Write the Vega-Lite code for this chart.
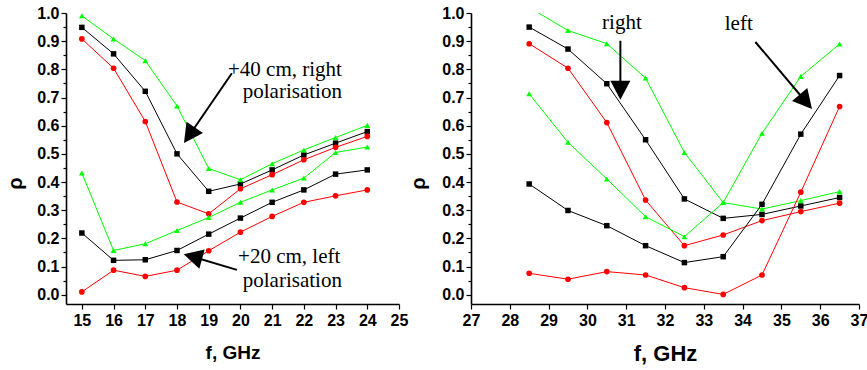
{
  "$schema": "https://vega.github.io/schema/vega-lite/v6.json",
  "background": "white",
  "padding": {"left": 5, "top": 5, "right": 5, "bottom": 5},
  "bounds": "flush",
  "spacing": 72,
  "config": {
    "view": {"stroke": null},
    "font": "Liberation Sans",
    "axis": {
      "grid": false,
      "domainColor": "#000000",
      "domainWidth": 1.6,
      "tickColor": "#000000",
      "tickWidth": 1.2,
      "labelColor": "#000000",
      "labelFont": "Liberation Sans",
      "labelFontSize": 16,
      "labelFontWeight": "bold",
      "labelFlush": false,
      "labelOverlap": false,
      "labelBound": false,
      "titleFont": "Liberation Sans",
      "titleFontWeight": "bold",
      "titleColor": "#000000"
    },
    "axisX": {"labelPadding": 3, "titlePadding": 15},
    "axisY": {"labelPadding": 2, "titleFontSize": 20}
  },
  "datasets": {
    "left": [
      {"f": 15, "rho": 0.949, "series": "+40 k", "run": "run 1"},
      {"f": 16, "rho": 0.855, "series": "+40 k", "run": "run 1"},
      {"f": 17, "rho": 0.722, "series": "+40 k", "run": "run 1"},
      {"f": 18, "rho": 0.500, "series": "+40 k", "run": "run 1"},
      {"f": 19, "rho": 0.367, "series": "+40 k", "run": "run 1"},
      {"f": 20, "rho": 0.393, "series": "+40 k", "run": "run 1"},
      {"f": 21, "rho": 0.443, "series": "+40 k", "run": "run 1"},
      {"f": 22, "rho": 0.496, "series": "+40 k", "run": "run 1"},
      {"f": 23, "rho": 0.538, "series": "+40 k", "run": "run 1"},
      {"f": 24, "rho": 0.579, "series": "+40 k", "run": "run 1"},
      {"f": 15, "rho": 0.908, "series": "+40 r", "run": "run 2"},
      {"f": 16, "rho": 0.804, "series": "+40 r", "run": "run 2"},
      {"f": 17, "rho": 0.615, "series": "+40 r", "run": "run 2"},
      {"f": 18, "rho": 0.329, "series": "+40 r", "run": "run 2"},
      {"f": 19, "rho": 0.287, "series": "+40 r", "run": "run 2"},
      {"f": 20, "rho": 0.376, "series": "+40 r", "run": "run 2"},
      {"f": 21, "rho": 0.426, "series": "+40 r", "run": "run 2"},
      {"f": 22, "rho": 0.479, "series": "+40 r", "run": "run 2"},
      {"f": 23, "rho": 0.523, "series": "+40 r", "run": "run 2"},
      {"f": 24, "rho": 0.562, "series": "+40 r", "run": "run 2"},
      {"f": 15, "rho": 0.990, "series": "+40 g", "run": "run 3"},
      {"f": 16, "rho": 0.908, "series": "+40 g", "run": "run 3"},
      {"f": 17, "rho": 0.831, "series": "+40 g", "run": "run 3"},
      {"f": 18, "rho": 0.670, "series": "+40 g", "run": "run 3"},
      {"f": 19, "rho": 0.448, "series": "+40 g", "run": "run 3"},
      {"f": 20, "rho": 0.408, "series": "+40 g", "run": "run 3"},
      {"f": 21, "rho": 0.465, "series": "+40 g", "run": "run 3"},
      {"f": 22, "rho": 0.514, "series": "+40 g", "run": "run 3"},
      {"f": 23, "rho": 0.558, "series": "+40 g", "run": "run 3"},
      {"f": 24, "rho": 0.601, "series": "+40 g", "run": "run 3"},
      {"f": 15, "rho": 0.219, "series": "+20 k", "run": "run 1"},
      {"f": 16, "rho": 0.122, "series": "+20 k", "run": "run 1"},
      {"f": 17, "rho": 0.124, "series": "+20 k", "run": "run 1"},
      {"f": 18, "rho": 0.157, "series": "+20 k", "run": "run 1"},
      {"f": 19, "rho": 0.215, "series": "+20 k", "run": "run 1"},
      {"f": 20, "rho": 0.272, "series": "+20 k", "run": "run 1"},
      {"f": 21, "rho": 0.328, "series": "+20 k", "run": "run 1"},
      {"f": 22, "rho": 0.372, "series": "+20 k", "run": "run 1"},
      {"f": 23, "rho": 0.428, "series": "+20 k", "run": "run 1"},
      {"f": 24, "rho": 0.443, "series": "+20 k", "run": "run 1"},
      {"f": 15, "rho": 0.010, "series": "+20 r", "run": "run 2"},
      {"f": 16, "rho": 0.087, "series": "+20 r", "run": "run 2"},
      {"f": 17, "rho": 0.065, "series": "+20 r", "run": "run 2"},
      {"f": 18, "rho": 0.087, "series": "+20 r", "run": "run 2"},
      {"f": 19, "rho": 0.156, "series": "+20 r", "run": "run 2"},
      {"f": 20, "rho": 0.222, "series": "+20 r", "run": "run 2"},
      {"f": 21, "rho": 0.278, "series": "+20 r", "run": "run 2"},
      {"f": 22, "rho": 0.328, "series": "+20 r", "run": "run 2"},
      {"f": 23, "rho": 0.351, "series": "+20 r", "run": "run 2"},
      {"f": 24, "rho": 0.372, "series": "+20 r", "run": "run 2"},
      {"f": 15, "rho": 0.432, "series": "+20 g", "run": "run 3"},
      {"f": 16, "rho": 0.157, "series": "+20 g", "run": "run 3"},
      {"f": 17, "rho": 0.181, "series": "+20 g", "run": "run 3"},
      {"f": 18, "rho": 0.228, "series": "+20 g", "run": "run 3"},
      {"f": 19, "rho": 0.274, "series": "+20 g", "run": "run 3"},
      {"f": 20, "rho": 0.328, "series": "+20 g", "run": "run 3"},
      {"f": 21, "rho": 0.372, "series": "+20 g", "run": "run 3"},
      {"f": 22, "rho": 0.414, "series": "+20 g", "run": "run 3"},
      {"f": 23, "rho": 0.505, "series": "+20 g", "run": "run 3"},
      {"f": 24, "rho": 0.524, "series": "+20 g", "run": "run 3"}
    ],
    "right": [
      {"f": 28.5, "rho": 0.950, "series": "right k", "run": "run 1"},
      {"f": 29.5, "rho": 0.872, "series": "right k", "run": "run 1"},
      {"f": 30.5, "rho": 0.749, "series": "right k", "run": "run 1"},
      {"f": 31.5, "rho": 0.550, "series": "right k", "run": "run 1"},
      {"f": 32.5, "rho": 0.340, "series": "right k", "run": "run 1"},
      {"f": 33.5, "rho": 0.271, "series": "right k", "run": "run 1"},
      {"f": 34.5, "rho": 0.285, "series": "right k", "run": "run 1"},
      {"f": 35.5, "rho": 0.315, "series": "right k", "run": "run 1"},
      {"f": 36.5, "rho": 0.345, "series": "right k", "run": "run 1"},
      {"f": 28.5, "rho": 0.891, "series": "right r", "run": "run 2"},
      {"f": 29.5, "rho": 0.804, "series": "right r", "run": "run 2"},
      {"f": 30.5, "rho": 0.611, "series": "right r", "run": "run 2"},
      {"f": 31.5, "rho": 0.336, "series": "right r", "run": "run 2"},
      {"f": 32.5, "rho": 0.174, "series": "right r", "run": "run 2"},
      {"f": 33.5, "rho": 0.212, "series": "right r", "run": "run 2"},
      {"f": 34.5, "rho": 0.263, "series": "right r", "run": "run 2"},
      {"f": 35.5, "rho": 0.295, "series": "right r", "run": "run 2"},
      {"f": 36.5, "rho": 0.325, "series": "right r", "run": "run 2"},
      {"f": 28.5, "rho": 1.020, "series": "right g", "run": "run 3"},
      {"f": 29.5, "rho": 0.938, "series": "right g", "run": "run 3"},
      {"f": 30.5, "rho": 0.891, "series": "right g", "run": "run 3"},
      {"f": 31.5, "rho": 0.769, "series": "right g", "run": "run 3"},
      {"f": 32.5, "rho": 0.505, "series": "right g", "run": "run 3"},
      {"f": 33.5, "rho": 0.327, "series": "right g", "run": "run 3"},
      {"f": 34.5, "rho": 0.304, "series": "right g", "run": "run 3"},
      {"f": 35.5, "rho": 0.334, "series": "right g", "run": "run 3"},
      {"f": 36.5, "rho": 0.366, "series": "right g", "run": "run 3"},
      {"f": 28.5, "rho": 0.393, "series": "left k", "run": "run 1"},
      {"f": 29.5, "rho": 0.299, "series": "left k", "run": "run 1"},
      {"f": 30.5, "rho": 0.245, "series": "left k", "run": "run 1"},
      {"f": 31.5, "rho": 0.174, "series": "left k", "run": "run 1"},
      {"f": 32.5, "rho": 0.114, "series": "left k", "run": "run 1"},
      {"f": 33.5, "rho": 0.135, "series": "left k", "run": "run 1"},
      {"f": 34.5, "rho": 0.321, "series": "left k", "run": "run 1"},
      {"f": 35.5, "rho": 0.570, "series": "left k", "run": "run 1"},
      {"f": 36.5, "rho": 0.778, "series": "left k", "run": "run 1"},
      {"f": 28.5, "rho": 0.076, "series": "left r", "run": "run 2"},
      {"f": 29.5, "rho": 0.055, "series": "left r", "run": "run 2"},
      {"f": 30.5, "rho": 0.082, "series": "left r", "run": "run 2"},
      {"f": 31.5, "rho": 0.070, "series": "left r", "run": "run 2"},
      {"f": 32.5, "rho": 0.025, "series": "left r", "run": "run 2"},
      {"f": 33.5, "rho": 0.001, "series": "left r", "run": "run 2"},
      {"f": 34.5, "rho": 0.070, "series": "left r", "run": "run 2"},
      {"f": 35.5, "rho": 0.364, "series": "left r", "run": "run 2"},
      {"f": 36.5, "rho": 0.668, "series": "left r", "run": "run 2"},
      {"f": 28.5, "rho": 0.713, "series": "left g", "run": "run 3"},
      {"f": 29.5, "rho": 0.541, "series": "left g", "run": "run 3"},
      {"f": 30.5, "rho": 0.411, "series": "left g", "run": "run 3"},
      {"f": 31.5, "rho": 0.277, "series": "left g", "run": "run 3"},
      {"f": 32.5, "rho": 0.206, "series": "left g", "run": "run 3"},
      {"f": 33.5, "rho": 0.327, "series": "left g", "run": "run 3"},
      {"f": 34.5, "rho": 0.573, "series": "left g", "run": "run 3"},
      {"f": 35.5, "rho": 0.775, "series": "left g", "run": "run 3"},
      {"f": 36.5, "rho": 0.890, "series": "left g", "run": "run 3"}
    ],
    "leftArrows": [
      {"arrow": "a40", "f": 18.39, "rho": 0.566, "f2": 19.73, "rho2": 0.786},
      {"arrow": "a20", "f": 18.50, "rho": 0.135, "f2": 19.89, "rho2": 0.088}
    ],
    "rightArrows": [
      {"arrow": "right", "f": 30.85, "rho": 0.7256, "f2": 30.85, "rho2": 0.9015},
      {"arrow": "left", "f": 35.63, "rho": 0.685, "f2": 34.33, "rho2": 0.897}
    ]
  },
  "hconcat": [
    {
      "width": 333,
      "height": 291,
      "encoding": {
        "x": {
          "field": "f", "type": "quantitative",
          "scale": {"domain": [14.5, 25], "nice": false, "zero": false},
          "axis": {
            "title": "f, GHz",
            "titleFontSize": 19,
            "values": [15, 15.5, 16, 16.5, 17, 17.5, 18, 18.5, 19, 19.5, 20, 20.5, 21, 21.5, 22, 22.5, 23, 23.5, 24, 24.5, 25],
            "format": "d",
            "labelExpr": "datum.value % 1 === 0 ? datum.label : ''",
            "tickSize": {"condition": {"test": "datum.value % 1 !== 0", "value": 3}, "value": 5}
          }
        },
        "y": {
          "field": "rho", "type": "quantitative",
          "scale": {"domain": [-0.033, 1.0], "nice": false, "zero": false},
          "axis": {
            "title": "ρ",
            "titleX": -45,
            "titleY": 170,
            "titleBaseline": "alphabetic",
            "values": [0, 0.05, 0.1, 0.15, 0.2, 0.25, 0.3, 0.35, 0.4, 0.45, 0.5, 0.55, 0.6, 0.65, 0.7, 0.75, 0.8, 0.85, 0.9, 0.95, 1],
            "format": ".1f",
            "labelExpr": "abs(datum.value * 10 - round(datum.value * 10)) > 0.01 ? '' : datum.label",
            "tickSize": {"condition": {"test": "abs(datum.value * 10 - round(datum.value * 10)) > 0.01", "value": 3}, "value": 5}
          }
        }
      },
      "layer": [
        {
          "data": {"name": "left"},
          "mark": {"type": "line", "strokeWidth": 1},
          "encoding": {
            "color": {"field": "run", "type": "nominal", "scale": {"domain": ["run 1", "run 2", "run 3"], "range": ["#000000", "#ff0000", "#00ff00"]}, "legend": null},
            "detail": {"field": "series"}
          }
        },
        {
          "data": {"name": "left"},
          "mark": {"type": "point", "filled": true, "opacity": 1},
          "encoding": {
            "color": {"field": "run", "type": "nominal", "scale": {"domain": ["run 1", "run 2", "run 3"], "range": ["#000000", "#ff0000", "#00ff00"]}, "legend": null},
            "shape": {"field": "run", "type": "nominal", "scale": {"domain": ["run 1", "run 2", "run 3"], "range": ["square", "circle", "triangle-up"]}, "legend": null},
            "size": {"field": "run", "type": "nominal", "scale": {"domain": ["run 1", "run 2", "run 3"], "range": [30, 34, 50]}, "legend": null},
            "detail": {"field": "series"}
          }
        },
        {
          "data": {"values": [
            {"text": "+40 cm, right", "f": 23.2, "rho": 0.778},
            {"text": "polarisation", "f": 23.2, "rho": 0.698},
            {"text": "+20 cm, left", "f": 23.15, "rho": 0.112},
            {"text": "polarisation", "f": 23.2, "rho": 0.026}
          ]},
          "mark": {"type": "text", "font": "Liberation Serif", "fontSize": 21, "align": "right", "baseline": "alphabetic", "color": "#000000"},
          "encoding": {"text": {"field": "text"}}
        },
        {
          "data": {"name": "leftArrows"},
          "mark": {"type": "rule", "strokeWidth": 2, "color": "#000000"},
          "encoding": {"x2": {"field": "f2"}, "y2": {"field": "rho2"}}
        },
        {
          "data": {"name": "leftArrows"},
          "transform": [{"filter": "datum.arrow === 'a40'"}],
          "mark": {"type": "point", "shape": "M0,-0.95L-1,0.95L1,0.95Z", "size": 400, "angle": 214.4, "filled": true, "opacity": 1, "color": "#000000"},
          "encoding": {}
        },
        {
          "data": {"name": "leftArrows"},
          "transform": [{"filter": "datum.arrow === 'a20'"}],
          "mark": {"type": "point", "shape": "M0,-0.95L-1,0.95L1,0.95Z", "size": 400, "angle": 285.4, "filled": true, "opacity": 1, "color": "#000000"},
          "encoding": {}
        }
      ]
    },
    {
      "width": 388,
      "height": 291,
      "encoding": {
        "x": {
          "field": "f", "type": "quantitative",
          "scale": {"domain": [27, 37], "nice": false, "zero": false},
          "axis": {
            "title": "f, GHz",
            "titleFontSize": 22,
            "values": [27, 27.5, 28, 28.5, 29, 29.5, 30, 30.5, 31, 31.5, 32, 32.5, 33, 33.5, 34, 34.5, 35, 35.5, 36, 36.5, 37],
            "format": "d",
            "labelExpr": "datum.value % 1 === 0 ? datum.label : ''",
            "tickSize": {"condition": {"test": "datum.value % 1 !== 0", "value": 3}, "value": 5}
          }
        },
        "y": {
          "field": "rho", "type": "quantitative",
          "scale": {"domain": [-0.033, 1.0], "nice": false, "zero": false},
          "axis": {
            "title": "ρ",
            "titleX": -47,
            "titleY": 170,
            "titleBaseline": "alphabetic",
            "values": [0, 0.05, 0.1, 0.15, 0.2, 0.25, 0.3, 0.35, 0.4, 0.45, 0.5, 0.55, 0.6, 0.65, 0.7, 0.75, 0.8, 0.85, 0.9, 0.95, 1],
            "format": ".1f",
            "labelExpr": "abs(datum.value * 10 - round(datum.value * 10)) > 0.01 ? '' : datum.label",
            "tickSize": {"condition": {"test": "abs(datum.value * 10 - round(datum.value * 10)) > 0.01", "value": 3}, "value": 5}
          }
        }
      },
      "layer": [
        {
          "data": {"name": "right"},
          "mark": {"type": "line", "strokeWidth": 1, "clip": true},
          "encoding": {
            "color": {"field": "run", "type": "nominal", "scale": {"domain": ["run 1", "run 2", "run 3"], "range": ["#000000", "#ff0000", "#00ff00"]}, "legend": null},
            "detail": {"field": "series"}
          }
        },
        {
          "data": {"name": "right"},
          "mark": {"type": "point", "filled": true, "opacity": 1, "clip": true},
          "encoding": {
            "color": {"field": "run", "type": "nominal", "scale": {"domain": ["run 1", "run 2", "run 3"], "range": ["#000000", "#ff0000", "#00ff00"]}, "legend": null},
            "shape": {"field": "run", "type": "nominal", "scale": {"domain": ["run 1", "run 2", "run 3"], "range": ["square", "circle", "triangle-up"]}, "legend": null},
            "size": {"field": "run", "type": "nominal", "scale": {"domain": ["run 1", "run 2", "run 3"], "range": [30, 34, 50]}, "legend": null},
            "detail": {"field": "series"}
          }
        },
        {
          "data": {"values": [
            {"text": "right", "f": 30.89, "rho": 0.944},
            {"text": "left", "f": 33.9, "rho": 0.94}
          ]},
          "mark": {"type": "text", "font": "Liberation Serif", "fontSize": 21, "align": "center", "baseline": "alphabetic", "color": "#000000"},
          "encoding": {"text": {"field": "text"}}
        },
        {
          "data": {"name": "rightArrows"},
          "mark": {"type": "rule", "strokeWidth": 2, "color": "#000000"},
          "encoding": {"x2": {"field": "f2"}, "y2": {"field": "rho2"}}
        },
        {
          "data": {"name": "rightArrows"},
          "transform": [{"filter": "datum.arrow === 'right'"}],
          "mark": {"type": "point", "shape": "M0,-0.95L-1,0.95L1,0.95Z", "size": 400, "angle": 180, "filled": true, "opacity": 1, "color": "#000000"},
          "encoding": {}
        },
        {
          "data": {"name": "rightArrows"},
          "transform": [{"filter": "datum.arrow === 'left'"}],
          "mark": {"type": "point", "shape": "M0,-0.95L-1,0.95L1,0.95Z", "size": 400, "angle": 139.6, "filled": true, "opacity": 1, "color": "#000000"},
          "encoding": {}
        }
      ]
    }
  ]
}
